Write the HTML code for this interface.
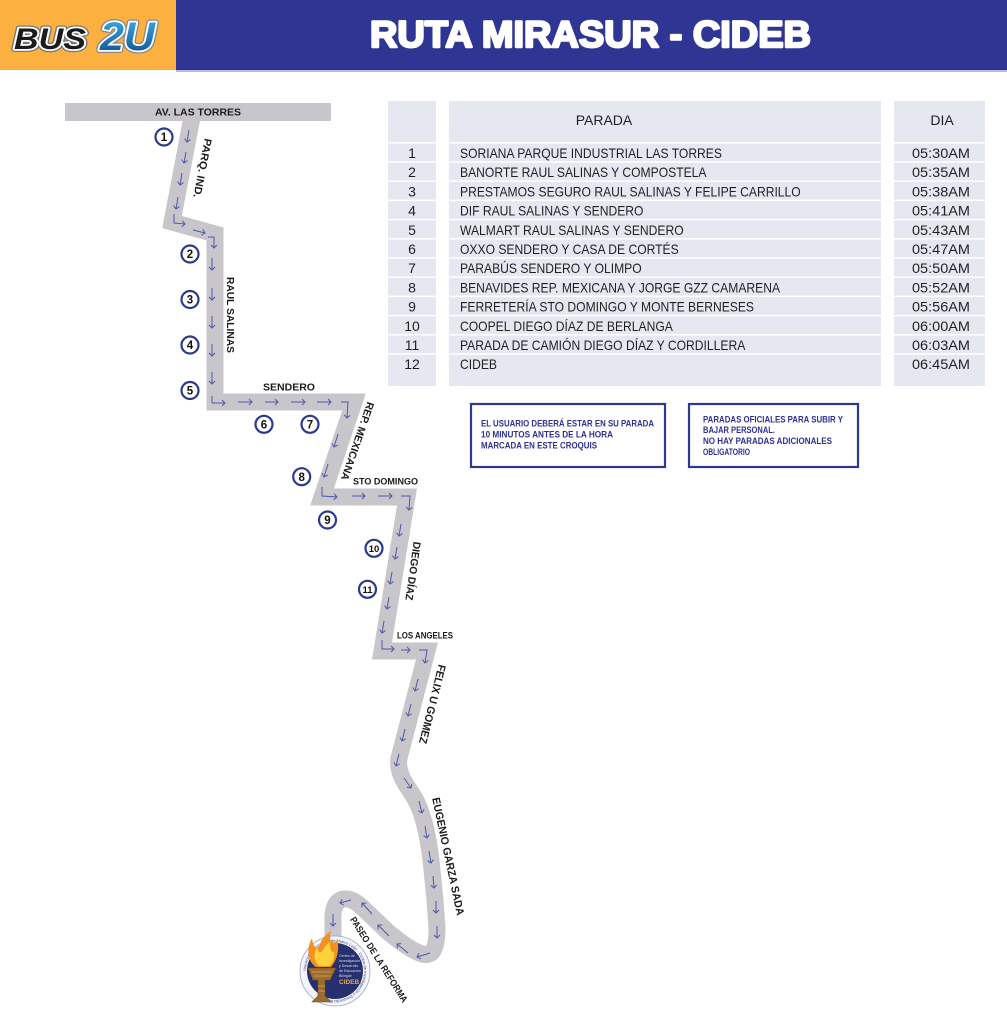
<!DOCTYPE html>
<html>
<head>
<meta charset="utf-8">
<style>
html,body{margin:0;padding:0;background:#fff;}
body{width:1007px;height:1024px;overflow:hidden;}
svg{display:block;}
text{font-family:"Liberation Sans","DejaVu Sans",sans-serif;}
</style>
</head>
<body>
<svg width="1007" height="1024" viewBox="0 0 1007 1024" xmlns="http://www.w3.org/2000/svg">
<defs>
  <marker id="a" viewBox="0 0 8 8" refX="4" refY="4" markerWidth="8" markerHeight="8" orient="auto" markerUnits="userSpaceOnUse">
    <path d="M1,1 L4,4 L1,7" fill="none" stroke="#4b5aa8" stroke-width="1"/>
  </marker>
  <linearGradient id="g2u" x1="0" y1="0" x2="0" y2="1">
    <stop offset="0" stop-color="#3fb1ea"/>
    <stop offset="1" stop-color="#0b4a8c"/>
  </linearGradient>
  <path id="ringp" d="M306,971 A29,29 0 1,1 364,971 A29,29 0 1,1 306,971"/>
</defs>

<!-- Header -->
<rect x="0" y="0" width="176" height="70" fill="#fbb040"/>
<rect x="176" y="0" width="831" height="70" fill="#2e3592"/>
<rect x="176" y="70" width="831" height="2" fill="#b3bde3"/>

<!-- BUS 2U logo -->
<g font-weight="bold" font-style="italic">
  <text x="14" y="49" font-size="30" textLength="72" lengthAdjust="spacingAndGlyphs" fill="#777" stroke="#777" stroke-width="6" stroke-linejoin="round">BUS</text>
  <text x="14" y="49" font-size="30" textLength="72" lengthAdjust="spacingAndGlyphs" fill="#fff" stroke="#fff" stroke-width="3.5" stroke-linejoin="round">BUS</text>
  <text x="14" y="49" font-size="30" textLength="72" lengthAdjust="spacingAndGlyphs" fill="#1b1b1b">BUS</text>
  <text x="100" y="50" font-size="40" textLength="55" lengthAdjust="spacingAndGlyphs" fill="#888" stroke="#888" stroke-width="6" stroke-linejoin="round">2U</text>
  <text x="100" y="50" font-size="40" textLength="55" lengthAdjust="spacingAndGlyphs" fill="#fff" stroke="#fff" stroke-width="3.5" stroke-linejoin="round">2U</text>
  <text x="100" y="50" font-size="40" textLength="55" lengthAdjust="spacingAndGlyphs" fill="url(#g2u)">2U</text>
</g>

<!-- Title -->
<text x="370" y="47" font-size="37" font-weight="bold" fill="#fff" stroke="#fff" stroke-width="2.4" stroke-linejoin="round" textLength="441" lengthAdjust="spacingAndGlyphs">RUTA MIRASUR - CIDEB</text>

<!-- Table -->
<rect x="388" y="101" width="48" height="285" fill="#e5e8f0"/>
<rect x="449" y="101" width="432" height="285" fill="#e5e8f0"/>
<rect x="894" y="101" width="91" height="285" fill="#e5e8f0"/>
<g fill="#fff">
  <rect x="388" y="142" width="597" height="1.5"/>
  <rect x="388" y="161.2" width="597" height="1.5"/>
  <rect x="388" y="180.4" width="597" height="1.5"/>
  <rect x="388" y="199.6" width="597" height="1.5"/>
  <rect x="388" y="218.8" width="597" height="1.5"/>
  <rect x="388" y="238" width="597" height="1.5"/>
  <rect x="388" y="257.2" width="597" height="1.5"/>
  <rect x="388" y="276.4" width="597" height="1.5"/>
  <rect x="388" y="295.6" width="597" height="1.5"/>
  <rect x="388" y="314.8" width="597" height="1.5"/>
  <rect x="388" y="334" width="597" height="1.5"/>
  <rect x="388" y="353.2" width="597" height="1.5"/>
  <rect x="436" y="101" width="13" height="285"/>
  <rect x="881" y="101" width="13" height="285"/>
</g>
<g fill="#231f20" font-size="14">
  <text x="604" y="125" text-anchor="middle">PARADA</text>
  <text x="942" y="125" text-anchor="middle">DIA</text>
  <g text-anchor="middle">
    <text x="412" y="158">1</text>
    <text x="412" y="177.2">2</text>
    <text x="412" y="196.4">3</text>
    <text x="412" y="215.6">4</text>
    <text x="412" y="234.8">5</text>
    <text x="412" y="254">6</text>
    <text x="412" y="273.2">7</text>
    <text x="412" y="292.4">8</text>
    <text x="412" y="311.6">9</text>
    <text x="412" y="330.8">10</text>
    <text x="412" y="350">11</text>
    <text x="412" y="369.2">12</text>
  </g>
  <g transform="translate(460 0) scale(0.866 1)">
    <text x="0" y="158">SORIANA PARQUE INDUSTRIAL LAS TORRES</text>
    <text x="0" y="177.2">BANORTE RAUL SALINAS Y COMPOSTELA</text>
    <text x="0" y="196.4">PRESTAMOS SEGURO RAUL SALINAS Y FELIPE CARRILLO</text>
    <text x="0" y="215.6">DIF RAUL SALINAS Y SENDERO</text>
    <text x="0" y="234.8">WALMART RAUL SALINAS Y SENDERO</text>
    <text x="0" y="254">OXXO SENDERO Y CASA DE CORTÉS</text>
    <text x="0" y="273.2">PARABÚS SENDERO Y OLIMPO</text>
    <text x="0" y="292.4">BENAVIDES REP. MEXICANA Y JORGE GZZ CAMARENA</text>
    <text x="0" y="311.6">FERRETERÍA STO DOMINGO Y MONTE BERNESES</text>
    <text x="0" y="330.8">COOPEL DIEGO DÍAZ DE BERLANGA</text>
    <text x="0" y="350">PARADA DE CAMIÓN DIEGO DÍAZ Y CORDILLERA</text>
    <text x="0" y="369.2">CIDEB</text>
  </g>
  <g text-anchor="middle">
    <text x="941" y="158" textLength="58" lengthAdjust="spacingAndGlyphs">05:30AM</text>
    <text x="941" y="177.2" textLength="58" lengthAdjust="spacingAndGlyphs">05:35AM</text>
    <text x="941" y="196.4" textLength="58" lengthAdjust="spacingAndGlyphs">05:38AM</text>
    <text x="941" y="215.6" textLength="58" lengthAdjust="spacingAndGlyphs">05:41AM</text>
    <text x="941" y="234.8" textLength="58" lengthAdjust="spacingAndGlyphs">05:43AM</text>
    <text x="941" y="254" textLength="58" lengthAdjust="spacingAndGlyphs">05:47AM</text>
    <text x="941" y="273.2" textLength="58" lengthAdjust="spacingAndGlyphs">05:50AM</text>
    <text x="941" y="292.4" textLength="58" lengthAdjust="spacingAndGlyphs">05:52AM</text>
    <text x="941" y="311.6" textLength="58" lengthAdjust="spacingAndGlyphs">05:56AM</text>
    <text x="941" y="330.8" textLength="58" lengthAdjust="spacingAndGlyphs">06:00AM</text>
    <text x="941" y="350" textLength="58" lengthAdjust="spacingAndGlyphs">06:03AM</text>
    <text x="941" y="369.2" textLength="58" lengthAdjust="spacingAndGlyphs">06:45AM</text>
  </g>
</g>

<!-- Notes -->
<rect x="471" y="404" width="194" height="63" fill="#fff" stroke="#2b3990" stroke-width="2.2"/>
<rect x="689" y="404" width="169" height="63" fill="#fff" stroke="#2b3990" stroke-width="2.2"/>
<g fill="#2e3192" font-size="9" font-weight="bold">
  <text x="481" y="426.7" textLength="173" lengthAdjust="spacingAndGlyphs">EL USUARIO DEBERÁ ESTAR EN SU PARADA</text>
  <text x="481" y="437.5" textLength="132" lengthAdjust="spacingAndGlyphs">10 MINUTOS ANTES DE LA HORA</text>
  <text x="481" y="448.3" textLength="116" lengthAdjust="spacingAndGlyphs">MARCADA EN ESTE CROQUIS</text>
  <text x="703" y="422.3" textLength="140" lengthAdjust="spacingAndGlyphs">PARADAS OFICIALES PARA SUBIR Y</text>
  <text x="703" y="433.2" textLength="72" lengthAdjust="spacingAndGlyphs">BAJAR PERSONAL.</text>
  <text x="703" y="444.1" textLength="129" lengthAdjust="spacingAndGlyphs">NO HAY PARADAS ADICIONALES</text>
  <text x="703" y="455" textLength="47" lengthAdjust="spacingAndGlyphs">OBLIGATORIO</text>
</g>

<!-- Road -->
<rect x="65" y="103" width="266" height="18" fill="#c9c6cb"/>
<path d="M193,112 L172,222 L215,234 L215,402 L354,402 L322,497 L407,497 L382,651 L427,651 L399,758 Q397,770 405,783 L414,797 C423,812 428,835 431,860 L435,900 L437,928 C437,950 432,957 422,954 C410,950 398,940 388,932 L365,910 C356,901 350,898 343,899 C335,901 332,910 333,925 L333,945"
      fill="none" stroke="#c9c6cb" stroke-width="17" stroke-linejoin="miter" stroke-miterlimit="6"/>

<!-- Arrows -->
<g fill="none" stroke="#4b5aa8" stroke-width="1" marker-end="url(#a)">
  <path d="M189,130 L187,142"/>
  <path d="M186,152 L184,163"/>
  <path d="M182,173 L180,185"/>
  <path d="M178,197 L176,209"/>
  <path d="M174,214 L174,223 L185,224"/>
  <path d="M193,230 L205,233"/>
  <path d="M208,237 L214,237 L214,248"/>
  <path d="M212,258 L212,270"/>
  <path d="M212,288 L212,300"/>
  <path d="M212,316 L212,328"/>
  <path d="M212,344 L212,356"/>
  <path d="M212,372 L212,384"/>
  <path d="M212,396 L212,403 L225,403"/>
  <path d="M238,402 L252,402"/>
  <path d="M265,402 L278,402"/>
  <path d="M291,402 L305,402"/>
  <path d="M317,402 L331,402"/>
  <path d="M341,402 L348,402 L347,418"/>
  <path d="M338,434 L334,447"/>
  <path d="M328,464 L324,477"/>
  <path d="M322,487 L322,496 L337,497"/>
  <path d="M352,496 L365,496"/>
  <path d="M378,496 L392,496"/>
  <path d="M401,496 L410,496 L409,510"/>
  <path d="M401,524 L399,536"/>
  <path d="M397,547 L395,559"/>
  <path d="M392,572 L390,584"/>
  <path d="M389,597 L387,609"/>
  <path d="M384,621 L382,633"/>
  <path d="M382,640 L382,649 L394,649"/>
  <path d="M401,650 L410,650"/>
  <path d="M419,650 L427,650 L425,663"/>
  <path d="M418,679 L415,691"/>
  <path d="M411,704 L408,716"/>
  <path d="M405,729 L402,741"/>
  <path d="M399,754 L396,766"/>
  <path d="M404,778 L411,788"/>
  <path d="M419,801 L422,813"/>
  <path d="M425,826 L427,838"/>
  <path d="M429,851 L431,863"/>
  <path d="M433,876 L434,888"/>
  <path d="M436,901 L436,913"/>
  <path d="M437,926 L437,938"/>
  <path d="M430,953 L417,957"/>
  <path d="M408,953 L397,944"/>
  <path d="M389,936 L378,925"/>
  <path d="M372,914 L362,903"/>
  <path d="M351,900 L340,903"/>
  <path d="M333,914 L333,926"/>
</g>

<!-- Street labels -->
<g fill="#1a1a1a" font-weight="bold">
  <text x="198" y="115.7" font-size="10.5" text-anchor="middle" textLength="86" lengthAdjust="spacingAndGlyphs">AV. LAS TORRES</text>
  <text transform="translate(202 168) rotate(101)" font-size="10.5" text-anchor="middle" dominant-baseline="central" textLength="60" lengthAdjust="spacingAndGlyphs">PARQ. IND.</text>
  <text transform="translate(230 315) rotate(90)" font-size="10.5" text-anchor="middle" dominant-baseline="central" textLength="76" lengthAdjust="spacingAndGlyphs">RAUL SALINAS</text>
  <text x="289" y="390.7" font-size="10.5" text-anchor="middle" textLength="52" lengthAdjust="spacingAndGlyphs">SENDERO</text>
  <text transform="translate(357 441) rotate(109)" font-size="10.5" text-anchor="middle" dominant-baseline="central" textLength="82" lengthAdjust="spacingAndGlyphs">REP. MEXICANA</text>
  <text x="385.5" y="484.3" font-size="9" text-anchor="middle" textLength="65" lengthAdjust="spacingAndGlyphs">STO DOMINGO</text>
  <text transform="translate(412.5 571) rotate(98)" font-size="10.5" text-anchor="middle" dominant-baseline="central" textLength="59" lengthAdjust="spacingAndGlyphs">DIEGO DÍAZ</text>
  <text x="425" y="638.3" font-size="9" text-anchor="middle" textLength="56" lengthAdjust="spacingAndGlyphs">LOS ANGELES</text>
  <text transform="translate(431.7 704) rotate(104)" font-size="11" text-anchor="middle" dominant-baseline="central" textLength="81" lengthAdjust="spacingAndGlyphs">FELIX U GOMEZ</text>
  <text transform="translate(447.5 856.5) rotate(78)" font-size="11" text-anchor="middle" dominant-baseline="central" textLength="120" lengthAdjust="spacingAndGlyphs">EUGENIO GARZA SADA</text>
  <text transform="translate(378.3 960) rotate(57.7)" font-size="9.5" text-anchor="middle" dominant-baseline="central" textLength="99" lengthAdjust="spacingAndGlyphs">PASEO DE LA REFORMA</text>
</g>

<!-- Stop circles -->
<g fill="#fff" stroke="#2b3990" stroke-width="2.2">
  <circle cx="164" cy="137" r="8.5"/>
  <circle cx="190" cy="254" r="8.5"/>
  <circle cx="190" cy="299.5" r="8.5"/>
  <circle cx="190" cy="345" r="8.5"/>
  <circle cx="190" cy="390.5" r="8.5"/>
  <circle cx="264" cy="424.3" r="8.5"/>
  <circle cx="310" cy="424.3" r="8.5"/>
  <circle cx="301.7" cy="476.7" r="8.5"/>
  <circle cx="327.5" cy="520" r="8.5"/>
  <circle cx="374" cy="548.3" r="8.5"/>
  <circle cx="367.5" cy="589.3" r="8.5"/>
</g>
<g fill="#111" font-weight="bold" font-size="11.5" text-anchor="middle">
  <text x="164" y="141.2">1</text>
  <text x="190" y="258.2">2</text>
  <text x="190" y="303.7">3</text>
  <text x="190" y="349.2">4</text>
  <text x="190" y="394.7">5</text>
  <text x="264" y="428.5">6</text>
  <text x="310" y="428.5">7</text>
  <text x="301.7" y="480.9">8</text>
  <text x="327.5" y="524.2">9</text>
  <text x="374" y="551.8" font-size="9.5">10</text>
  <text x="367.5" y="592.8" font-size="9.5">11</text>
</g>

<!-- CIDEB logo -->
<g>
  <circle cx="335" cy="971" r="35" fill="#f4f5fa" stroke="#9aa0c4" stroke-width="0.8"/>
  <circle cx="335" cy="971" r="28" fill="#27306f"/>
  <text font-size="4" fill="#3a437e"><textPath href="#ringp">Universidad Autónoma de Nuevo León · Centro de Investigación y Desarrollo Bilingüe ·</textPath></text>
  <g font-size="3.6" fill="#d8dcf0">
    <text x="339" y="957">Centro de</text>
    <text x="339" y="962">Investigación</text>
    <text x="339" y="967">y Desarrollo</text>
    <text x="339" y="972">de Educación</text>
    <text x="339" y="977">Bilingüe</text>
  </g>
  <text x="339" y="984" font-size="6.5" font-weight="bold" fill="#e6a94c">CIDEB</text>
  <path d="M308,968 L336,968 L330,980 L325,980 L325,996 L331,1002 L312,1002 L318,996 L318,980 L313,980 Z" fill="#9c6d2e" stroke="#6b4a1d" stroke-width="0.6"/>
  <path d="M312,972 L332,972 M314,976 L330,976 M318,986 L325,986 M318,991 L325,991" stroke="#d8a85a" stroke-width="0.8"/>
  <path d="M316,967 C306,960 307,947 312,938 C313,947 317,950 320,946 C320,940 325,935 331,931 C328,941 333,946 337,940 C340,950 337,960 331,967 Z" fill="#f39220"/>
  <path d="M319,966 C313,960 314,952 317,947 C318,953 321,954 323,950 C325,946 327,944 330,942 C329,950 333,954 334,951 C335,958 333,963 329,966 Z" fill="#ffd23a"/>
</g>
</svg>
</body>
</html>
